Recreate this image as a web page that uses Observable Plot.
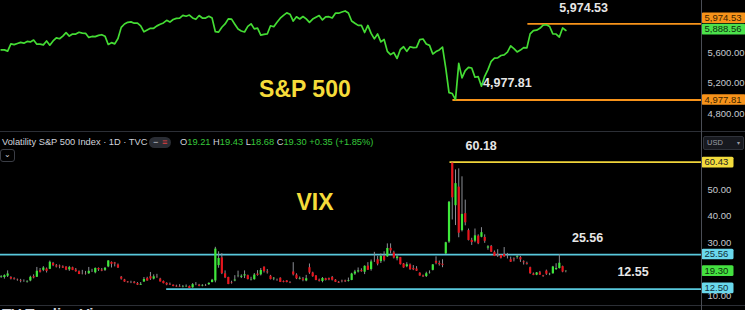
<!DOCTYPE html>
<html><head><meta charset="utf-8">
<script src="https://cdn.jsdelivr.net/npm/d3@7"></script>
<script src="https://cdn.jsdelivr.net/npm/@observablehq/plot@0.6"></script>
<style>
html,body{margin:0;padding:0;background:#000;}
#chart{position:relative;width:745px;height:310px;background:#000;overflow:hidden;font-family:"Liberation Sans",Arial,sans-serif;}
#chart svg{position:absolute;left:0;}
.ov{position:absolute;white-space:nowrap;}
</style></head><body><div id="chart"></div>
<script>
// ---- S&P 500 daily closes, 2024-09-16 .. 2025-05-28 (trading-day index 0..174)
const sp500Close = [
 5633.09,5634.58,5618.26,5713.64,5702.55,5718.57,5732.93,5722.26,5745.37,5738.17,5762.48,
 5708.75,5709.54,5699.94,5751.07,5695.94,5751.13,5792.04,5780.05,5815.03,5859.85,5815.26,5842.47,5841.47,5864.67,5853.98,5851.20,5797.42,5809.86,5808.12,5823.52,5832.92,5813.67,5705.45,
 5728.80,5712.69,5782.76,5929.04,5973.10,5995.54,6001.35,5983.99,5985.38,5949.17,5870.62,5893.62,5916.98,5917.11,5948.71,5969.34,5987.37,6021.63,5998.74,6032.38,
 6047.15,6049.88,6086.49,6075.11,6090.27,6052.85,6034.91,6084.19,6051.25,6051.09,6074.08,6050.61,5872.16,5867.08,5930.85,5974.07,6040.04,6037.59,5970.84,5906.94,5881.63,
 5868.55,5942.47,5975.38,5909.03,5918.25,5827.04,5836.22,5842.91,5949.91,5937.34,5996.66,6049.24,6086.37,6118.71,6101.24,6012.28,6067.70,6039.31,6071.17,6040.53,
 5994.57,6037.88,6061.48,6083.57,6025.99,6066.44,6068.50,6051.97,6115.07,6114.63,6129.58,6144.15,6117.52,6013.13,5983.25,5955.25,5956.06,5861.57,5954.50,
 5849.72,5778.15,5842.63,5738.52,5770.20,5614.56,5572.07,5599.30,5521.52,5638.94,5675.12,5614.66,5675.29,5662.89,5667.56,5767.57,5776.65,5712.20,5693.31,5580.94,5611.85,
 5633.07,5670.97,5396.52,5074.08,5062.25,4982.77,5456.90,5268.05,5363.36,5405.97,5396.63,5275.70,5282.70,5158.20,5287.76,5375.86,5484.77,5525.21,5528.75,5560.83,5569.06,
 5604.14,5686.67,5650.38,5606.91,5631.28,5663.94,5659.91,5844.19,5886.55,5892.58,5916.93,5958.38,5963.60,5940.46,5844.61,5842.01,5802.82,5921.54,5888.56
];

// ---- VIX daily OHLC, same trading days
const vixOpen = [
 16.9,16.9,17.4,16.9,16.4,16.0,15.6,15.4,15.2,15.6,17.2,
 17.0,19.5,19.6,20.1,20.0,22.2,21.3,21.2,20.9,20.8,19.8,20.6,19.7,19.1,18.4,18.3,18.3,19.1,18.7,20.3,19.7,19.6,20.9,
 22.6,22.4,21.6,17.0,16.0,15.2,15.0,15.1,14.6,14.0,15.2,16.5,17.2,16.3,17.0,16.3,15.4,14.7,14.3,14.0,
 13.6,13.5,13.3,13.4,13.5,13.0,14.2,14.0,13.7,13.9,14.2,15.0,15.6,21.4,24.3,18.3,16.9,14.9,15.6,17.3,17.0,
 17.5,17.6,15.9,16.1,18.2,17.9,20.8,19.0,17.4,16.4,16.0,16.6,15.4,15.6,15.0,19.0,17.8,16.3,16.3,15.6,
 20.6,18.6,17.5,15.9,15.4,16.4,16.5,16.9,15.9,15.1,15.5,15.6,15.4,15.8,18.2,19.0,19.5,18.9,21.2,
 19.9,23.5,23.6,22.9,24.9,24.7,27.9,26.2,24.0,24.4,22.0,21.0,21.6,20.3,20.1,18.5,17.5,17.3,18.6,19.6,23.0,
 22.2,21.9,25.8,30.3,60.1,44.0,51.0,34.6,41.0,34.6,30.9,30.6,32.5,32.1,32.0,28.0,28.6,26.4,25.4,25.2,25.6,
 24.6,23.6,23.9,24.5,24.4,22.8,22.2,20.6,18.2,17.8,18.7,17.5,19.3,18.0,18.3,19.9,20.3,21.0,19.21
];
const vixHigh = [
 17.6,17.9,19.4,17.2,16.8,16.3,16.2,16.0,15.7,17.4,17.9,
 20.7,20.3,21.0,20.5,23.1,22.6,21.8,21.6,21.3,21.0,21.1,20.8,20.3,19.4,19.6,19.2,20.7,20.0,20.5,20.5,20.3,20.7,23.2,
 22.8,22.6,22.0,17.3,16.2,15.4,15.5,15.4,15.0,15.0,16.9,17.0,18.8,17.9,18.1,16.6,15.6,14.9,14.8,14.1,
 14.0,14.2,13.9,14.1,13.7,14.6,15.0,14.3,14.2,14.3,14.9,16.2,28.3,26.6,25.9,19.4,17.0,15.5,17.6,19.3,17.9,
 19.4,17.8,17.0,18.4,19.5,20.3,20.9,19.9,17.7,16.9,16.3,16.8,15.6,15.7,15.3,22.5,18.3,17.1,16.9,17.7,
 22.0,18.9,17.6,16.3,16.9,16.6,16.7,17.3,16.1,15.4,15.9,15.9,16.7,18.5,19.6,20.5,20.2,21.3,22.5,
 23.5,26.4,24.9,25.8,26.6,29.6,29.6,26.8,25.6,24.5,22.2,22.5,22.0,21.4,21.0,18.7,17.8,18.9,19.4,21.8,24.7,
 23.1,23.6,30.2,45.6,60.13,57.5,57.9,54.9,46.1,35.2,31.7,35.2,33.0,35.7,33.0,28.9,29.0,26.9,27.4,25.6,28.2,
 26.0,24.6,24.3,25.3,24.9,23.2,22.7,20.8,18.6,18.8,19.2,17.7,19.7,18.5,21.1,22.1,25.56,21.2,19.43
];
const vixLow = [
 16.6,16.3,16.9,16.0,15.9,15.5,14.9,15.1,14.8,15.3,16.4,
 16.9,18.6,19.1,18.6,19.9,21.0,20.5,20.2,20.3,19.5,19.2,19.5,18.9,18.0,17.9,17.8,18.1,18.8,18.3,19.2,19.1,19.2,20.6,
 20.5,20.9,20.3,15.9,15.1,14.8,14.6,14.5,13.9,13.9,15.1,15.5,15.8,16.0,16.6,15.2,14.5,13.8,13.9,13.4,
 13.2,13.2,13.0,13.2,12.7,12.9,13.8,13.4,13.4,13.5,13.9,14.9,14.9,20.4,18.0,16.5,14.2,14.4,15.3,16.8,16.5,
 16.5,16.0,15.6,15.9,17.4,17.5,18.6,18.2,16.0,15.7,15.5,15.0,14.9,14.9,14.6,17.5,16.1,16.0,15.3,15.3,
 18.1,17.0,15.7,15.2,14.9,15.6,15.7,15.6,15.0,14.7,14.9,15.0,15.2,15.7,17.7,18.6,18.9,18.0,19.6,
 19.3,22.6,21.3,22.2,22.8,24.5,25.8,23.9,23.2,21.6,20.4,20.6,19.6,19.5,19.2,17.4,16.9,16.9,18.2,19.4,21.7,
 21.2,20.6,25.6,29.8,38.6,36.5,31.9,34.1,36.4,30.7,29.0,30.0,29.3,31.9,29.8,27.2,26.3,24.8,24.5,23.9,24.5,
 23.9,22.6,22.8,23.8,22.6,21.6,21.6,18.1,17.6,17.6,17.7,17.0,17.7,17.6,18.2,19.6,20.1,18.7,18.68
];
const vixClose = [
 17.14,17.61,18.23,16.33,16.15,15.89,15.39,15.41,15.37,16.96,16.73,
 19.26,18.90,20.49,19.21,22.64,21.42,20.86,20.93,20.46,19.70,20.64,19.58,19.11,18.03,18.37,18.20,19.24,19.08,20.33,19.80,19.34,20.35,23.16,
 21.88,21.98,20.49,16.27,15.20,14.94,14.97,14.71,14.02,14.31,16.14,15.58,16.35,17.16,16.87,15.24,14.60,14.10,14.10,13.51,
 13.34,13.30,13.45,13.54,12.77,14.19,14.18,13.58,13.92,13.81,14.69,15.87,27.62,24.09,18.36,16.78,14.27,14.73,15.95,17.40,17.35,
 17.93,16.13,16.04,17.82,17.70,19.54,19.19,18.71,16.12,16.60,15.97,15.06,15.10,15.02,14.85,17.90,16.41,16.56,15.84,16.43,
 18.62,17.21,15.77,15.50,16.54,15.81,16.02,15.89,15.10,14.77,15.35,15.27,15.66,18.21,18.98,19.43,19.10,21.13,19.63,
 22.78,23.51,21.93,24.87,23.37,27.86,26.92,24.23,24.66,21.77,20.51,21.70,19.90,19.80,19.28,17.48,17.15,18.33,18.69,21.65,22.28,
 21.77,21.51,30.02,45.31,46.98,52.33,33.62,40.72,37.56,30.89,30.12,32.64,29.65,33.82,30.57,28.45,26.47,24.84,25.15,24.17,24.70,
 24.60,22.68,23.64,24.76,23.55,22.48,21.90,18.39,17.72,18.62,17.83,17.24,18.14,18.09,20.87,20.28,22.29,18.95,19.30
];

// ---- drawn levels, annotations and axis ticks
const spLevelValues = [5974.53, 4977.81];
const spLevelStart = [162.3, 139.2];
const vixLevelValues = [60.43, 25.56, 12.50];
const vixLevelStart = [138.3, -0.2, 51.0];
const vixNoteLabels = ["60.18", "25.56", "12.55"];
const spTicks = [5600, 5200, 4800];
const vixTicks = [50, 40, 30, 10];
const spBoxValues = [5974.53, 5888.56, 4977.81];
const vixBoxValues = [60.43, 25.56, 19.30, 12.50];

// ---- layout
const W = 745, AX = 44, XMAX = 215.8, XMIN = -0.2;
const FONT = '"Liberation Sans", Arial, sans-serif';
const RED = "#e8141c", ORANGE = "#f7931a", CYAN = "#58c8dc", YELLOW = "#f0d43a";
const chart = document.getElementById("chart");
const fmt2 = d3.format(",.2f");
const f2 = d => d3.format(".2f")(d);

const spData = sp500Close.map((v, i) => ({i, v}));
const spLv = spLevelValues.map((v, k) => ({v, s: spLevelStart[k]}));

const topPlot = Plot.plot({
  width: W, height: 131,
  marginTop: 0, marginBottom: 0, marginLeft: 0, marginRight: AX,
  style: {background: "transparent", fontFamily: FONT, overflow: "visible"},
  x: {domain: [XMIN, XMAX], axis: null},
  y: {domain: [4565, 6281], axis: null},
  marks: [
    Plot.ruleY(spLv, {y: "v", x1: "s", x2: XMAX, stroke: ORANGE, strokeWidth: 1.8}),
    Plot.line(spData, {x: "i", y: "v", stroke: "#44dc34", strokeWidth: 1.7}),
    Plot.axisY(spTicks, {anchor: "right", label: null, tickSize: 0, tickPadding: 6, tickFormat: fmt2, fill: "#c7cad1", fontSize: 9.5}),
    Plot.text([fmt2(spLevelValues[0])], {x: 179.5, y: 6186, text: d => d, fill: "#e6e6e6", fontSize: 12.5, fontWeight: "bold"}),
    Plot.text([fmt2(spLevelValues[1])], {x: 148.5, y: 5198, text: d => d, fill: "#e6e6e6", fontSize: 12.5, fontWeight: "bold", textAnchor: "start"}),
    Plot.text(["S&P 500"], {x: 93.6, y: 5111, text: d => d, fill: "#f5dc3a", fontSize: 23, fontWeight: "bold"})
  ]
});
topPlot.style.top = "0px";
chart.appendChild(topPlot);

const vix = vixClose.map((c, i) => ({i, o: vixOpen[i], h: vixHigh[i], l: vixLow[i], c}));
const vixLv = vixLevelValues.map((v, k) => ({v, s: vixLevelStart[k], col: k === 0 ? YELLOW : CYAN}));

const botPlot = Plot.plot({
  width: W, height: 174,
  marginTop: 0, marginBottom: 0, marginLeft: 0, marginRight: AX,
  style: {background: "transparent", fontFamily: FONT, overflow: "visible"},
  x: {domain: [XMIN, XMAX], axis: null},
  y: {domain: [6.34, 72.0], axis: null},
  color: {type: "identity"},
  marks: [
    Plot.axisY(vixTicks, {anchor: "right", label: null, tickSize: 0, tickPadding: 6, tickFormat: f2, fill: "#c7cad1", fontSize: 9.5}),
    Plot.ruleY(vixLv, {y: "v", x1: "s", x2: XMAX, stroke: "col", strokeWidth: 1.8}),
    Plot.ruleX(vix, {x: "i", y1: "l", y2: "h", stroke: "#8b8e95", strokeWidth: 1}),
    Plot.ruleX(vix, {x: "i", y1: "o", y2: "c", stroke: d => d.c >= d.o ? "#3ee83a" : RED, strokeWidth: 2.2}),
    Plot.text([vixNoteLabels[0]], {x: 147.9, y: 66.45, text: d => d, fill: "#e6e6e6", fontSize: 12.5, fontWeight: "bold"}),
    Plot.text(["VIX"], {x: 96.7, y: 45.3, text: d => d, fill: "#f5dc3a", fontSize: 23, fontWeight: "bold"}),
    Plot.text([vixNoteLabels[1]], {x: 180.7, y: 31.9, text: d => d, fill: "#e6e6e6", fontSize: 12.5, fontWeight: "bold"}),
    Plot.text([vixNoteLabels[2]], {x: 194.7, y: 18.9, text: d => d, fill: "#e6e6e6", fontSize: 12.5, fontWeight: "bold"})
  ]
});
botPlot.style.top = "131px";
chart.appendChild(botPlot);

// ---- price label boxes on the right scale
function boxes(plot, values, specs) {
  const y = plot.scale("y");
  const g = d3.select(plot).append("g").attr("text-anchor", "start");
  values.forEach((v, k) => {
    const s = specs[k];
    const cy = y.apply(v) + (s.dy || 0);
    g.append("rect").attr("x", 701.5).attr("y", cy - 5.3).attr("width", s.w).attr("height", 10.6)
      .attr("rx", 1.5).attr("fill", s.bg);
    g.append("text").attr("x", 704.5).attr("y", cy).attr("dy", "0.34em").attr("text-anchor", "start")
      .attr("fill", s.fg).attr("font-size", 9.5).attr("font-family", FONT).text(s.f(v));
  });
}
boxes(topPlot, spBoxValues, [
  {bg: "#f7931a", fg: "#3a2400", w: 44, dy: -5.6, f: fmt2},
  {bg: "#4be24b", fg: "#0d2a0d", w: 44, dy: -0.8, f: fmt2},
  {bg: "#f7931a", fg: "#3a2400", w: 44, dy: 0, f: fmt2}
]);
boxes(botPlot, vixBoxValues, [
  {bg: "#f3dc3c", fg: "#222", w: 32, dy: 0.5, f: f2},
  {bg: "#6ad8ec", fg: "#10303a", w: 32, dy: 0, f: f2},
  {bg: "#44e040", fg: "#0d2a0d", w: 32, dy: 0, f: f2},
  {bg: "#6ad8ec", fg: "#10303a", w: 32, dy: -0.8, f: f2}
]);

// ---- panel frame lines
function line(css) { const d = document.createElement("div"); d.className = "ov"; d.style.cssText += css; chart.appendChild(d); }
line("left:0;top:131px;width:745px;height:1px;background:#2c2f36;");
line("left:0;top:305px;width:745px;height:1px;background:#2c2f36;");
line("left:701px;top:0;width:1px;height:310px;background:#4a4d55;");

// ---- legend row
const last = vix.length - 1;
const chg = vixClose[last] - vixClose[last - 1];
const pct = chg / vixClose[last - 1] * 100;
const leg = document.createElement("div");
leg.className = "ov";
leg.style.cssText = "left:2px;top:137px;font-size:9.3px;color:#d1d4dc;";
leg.textContent = "Volatility S&P 500 Index · 1D · TVC";
chart.appendChild(leg);
const pill = document.createElement("div");
pill.className = "ov";
pill.style.cssText = "left:149px;top:136.5px;width:22px;height:11px;border-radius:6px;background:#2a2d34;font-size:9px;line-height:11px;";
pill.innerHTML = '<span style="color:#d1d4dc;position:absolute;left:4px;">−</span><span style="color:#e04040;position:absolute;left:13px;">≡</span>';
chart.appendChild(pill);
const ohlc = document.createElement("div");
ohlc.className = "ov";
ohlc.style.cssText = "left:180px;top:137px;font-size:9.3px;color:#36c93a;";
const lab = s => `<span style="color:#d1d4dc">${s}</span>`;
ohlc.innerHTML = `${lab("O")}${vixOpen[last].toFixed(2)} ${lab("H")}${vixHigh[last].toFixed(2)} ${lab("L")}${vixLow[last].toFixed(2)} ${lab("C")}${vixClose[last].toFixed(2)} +${chg.toFixed(2)} (+${pct.toFixed(2)}%)`;
chart.appendChild(ohlc);
const chev = document.createElement("div");
chev.className = "ov";
chev.style.cssText = "left:0px;top:149px;width:13px;height:11px;border:1px solid #3a3d45;border-radius:3px;color:#d1d4dc;font-size:8px;line-height:9px;text-align:center;";
chev.textContent = "⌄";
chart.appendChild(chev);

// ---- currency selector
const usd = document.createElement("div");
usd.className = "ov";
usd.style.cssText = "left:703px;top:136px;width:39px;height:12px;border:1px solid #2f323a;border-radius:2px;background:#17191f;color:#9a9da5;font-size:7.5px;line-height:12px;";
usd.innerHTML = '<span style="position:absolute;left:3px;">USD</span><span style="position:absolute;right:3px;font-size:6px;">▾</span>';
chart.appendChild(usd);

// ---- watermark (cut at the bottom edge)
const tv = document.createElement("div");
tv.className = "ov";
tv.style.cssText = "left:2px;top:305px;font-size:15px;font-weight:bold;color:#d1d4dc;";
tv.textContent = "TV TradingView";
chart.appendChild(tv);
</script>
</body></html>
